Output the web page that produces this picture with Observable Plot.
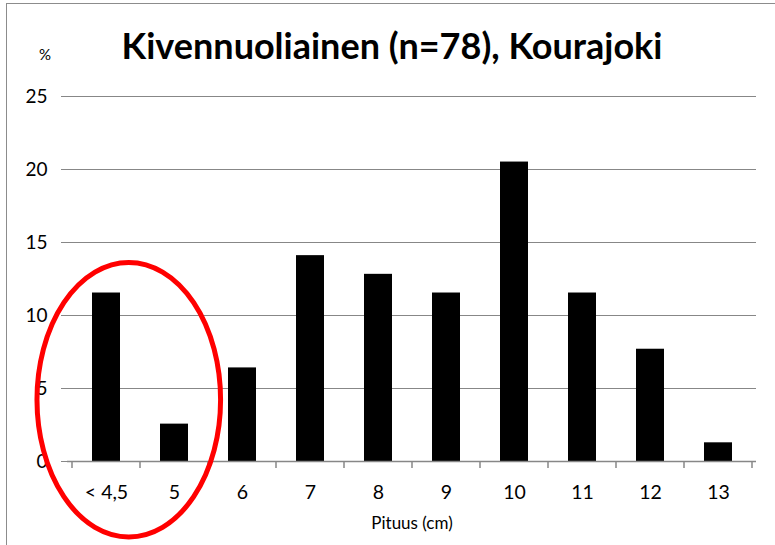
<!DOCTYPE html>
<html>
<head>
<meta charset="utf-8">
<script src="https://cdn.jsdelivr.net/npm/d3@7"></script>
<script src="https://cdn.jsdelivr.net/npm/@observablehq/plot@0.6"></script>
<style>
  html, body { margin: 0; padding: 0; background: #fff; }
  #wrap { position: relative; width: 775px; height: 545px; overflow: hidden; font-family: Lato, "Liberation Sans", sans-serif; }
  #frame { position: absolute; left: 6px; top: 3px; width: 800px; height: 600px; border-left: 1.5px solid #8c8c8c; border-top: 1.5px solid #8c8c8c; box-sizing: border-box; }
  #title { position: absolute; left: 0; top: 23px; width: 784px; text-align: center; font-weight: bold; font-size: 36px; color: #000; }
  #pct { position: absolute; left: 39px; top: 45px; font-size: 15px; color: #000; }
  #chart { position: absolute; left: 0; top: 80px; }
</style>
</head>
<body>
<div id="wrap">
  <div id="frame"></div>
  <div id="title">Kivennuoliainen (n=78), Kourajoki</div>
  <div id="pct">%</div>
  <div id="chart"></div>
</div>
<script>
const categories = ["< 4,5", "5", "6", "7", "8", "9", "10", "11", "12", "13"];
const percents = [11.54, 2.56, 6.41, 14.10, 12.82, 11.54, 20.51, 11.54, 7.69, 1.28];
const yTicks = [0, 5, 10, 15, 20, 25];
const xLabel = "Pituus (cm)";
// highlight ellipse annotation: centre in band-steps from the left edge and value units, radii in steps/value units
const highlight = { cx: 0.835, cy: 4.2, rx: 1.35, ry: 9.4 };

const data = categories.map((c, i) => ({ cat: c, pct: percents[i] }));
const gray = "#878787";

const plot = Plot.plot({
  width: 775,
  height: 465,
  marginTop: 16,
  marginBottom: 84,
  marginLeft: 67,
  marginRight: 19,
  style: { fontFamily: "Lato, 'Liberation Sans', sans-serif", fontSize: "19px", color: "#000", background: "transparent", overflow: "visible" },
  x: { domain: categories, paddingInner: 0.59, paddingOuter: 0.295, label: null },
  y: { domain: [0, 25], label: null },
  marks: [
    Plot.gridY(yTicks, { stroke: gray, strokeOpacity: 1, strokeWidth: 1 }),
    Plot.axisY(yTicks, { tickSize: 6, tickPadding: 14, stroke: gray, fontSize: 19, label: null }),
    Plot.barY(data, { x: "cat", y: "pct", fill: "#000" }),
    Plot.ruleY([0], { stroke: gray, strokeWidth: 1.5 }),
    Plot.ruleX([0], { x: () => null, frameAnchor: "left", stroke: gray, strokeWidth: 1.5, y1: 0, y2: 25 }),
    Plot.axisX({ tickSize: 0, tickPadding: 24, fontSize: 19.5, label: null }),
    Plot.text([xLabel], { frameAnchor: "bottom", dy: 67, fontSize: 17 }),
    // band-boundary tick marks below x axis + ellipse annotation
    (index, scales, values, dims) => {
      const x = scales.x, y = scales.y;
      const step = x.step(), bw = x.bandwidth();
      const g = d3.create("svg:g");
      const bounds = categories.map(c => x(c) - (step - bw) / 2);
      bounds.push(x(categories[categories.length - 1]) + bw + (step - bw) / 2);
      const y0 = y(0);
      g.selectAll("line").data(bounds).join("line")
        .attr("x1", d => d).attr("x2", d => d)
        .attr("y1", y0).attr("y2", y0 + 7)
        .attr("stroke", gray).attr("stroke-width", 1.5);
      const left = bounds[0];
      const pxPerUnit = y(0) - y(1);
      g.append("ellipse")
        .attr("cx", left + highlight.cx * step)
        .attr("cy", y(highlight.cy))
        .attr("rx", highlight.rx * step)
        .attr("ry", highlight.ry * pxPerUnit)
        .attr("fill", "none").attr("stroke", "#ff0000").attr("stroke-width", 5);
      return g.node();
    }
  ]
});
document.getElementById("chart").appendChild(plot);
</script>
</body>
</html>
